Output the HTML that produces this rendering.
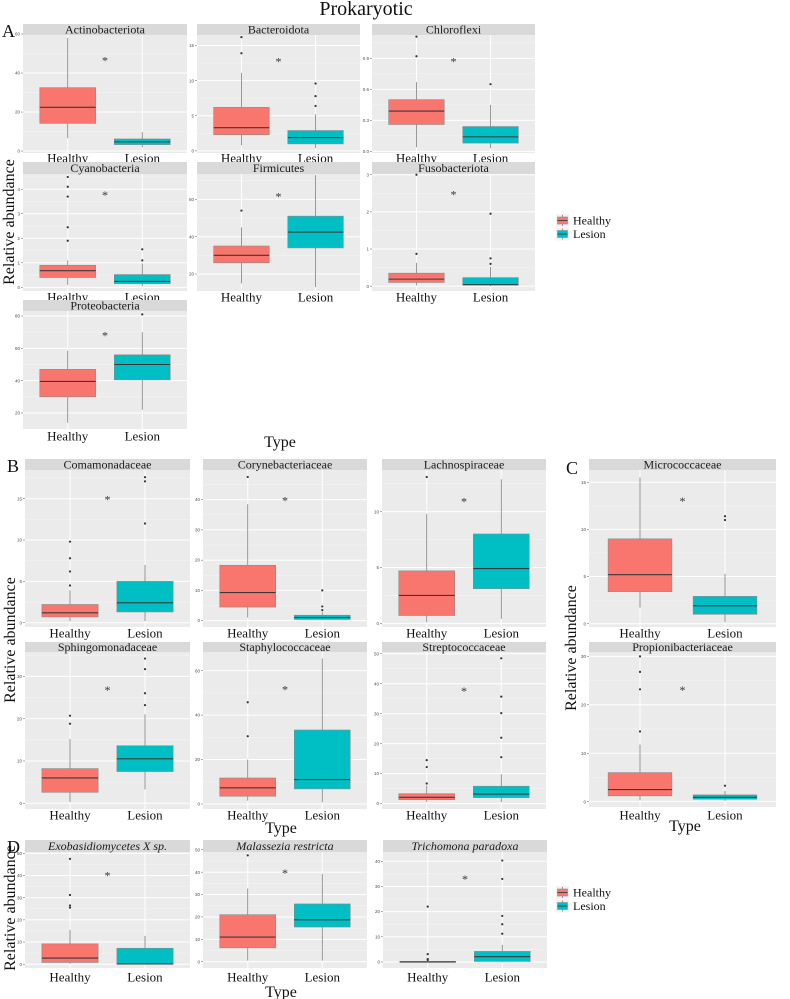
<!DOCTYPE html>
<html><head><meta charset="utf-8"><style>
html,body{margin:0;padding:0;background:#fff;}
svg{display:block;}
svg text{font-family:"Liberation Serif",serif;}
svg text.tick{font-family:"Liberation Sans",sans-serif;}
</style></head><body>
<svg id="fig" width="790" height="999" viewBox="0 0 790 999" xmlns="http://www.w3.org/2000/svg">
<text x="366" y="15" font-size="20" text-anchor="middle" fill="#111">Prokaryotic</text>
<text x="2" y="37" font-size="18" fill="#111">A</text>
<text x="7" y="472" font-size="18" fill="#111">B</text>
<text x="566" y="474" font-size="18" fill="#111">C</text>
<text x="7" y="853" font-size="18" fill="#111">D</text>
<text transform="translate(14,222) rotate(-90)" font-size="16" text-anchor="middle" fill="#111">Relative abundance</text>
<text transform="translate(15,640) rotate(-90)" font-size="16" text-anchor="middle" fill="#111">Relative abundance</text>
<text transform="translate(576,648) rotate(-90)" font-size="16" text-anchor="middle" fill="#111">Relative abundance</text>
<text transform="translate(15,908) rotate(-90)" font-size="16" text-anchor="middle" fill="#111">Relative abundance</text>
<text x="280" y="447" font-size="16" text-anchor="middle" fill="#111">Type</text>
<text x="281" y="833" font-size="16" text-anchor="middle" fill="#111">Type</text>
<text x="685" y="831" font-size="16" text-anchor="middle" fill="#111">Type</text>
<text x="281" y="997" font-size="16" text-anchor="middle" fill="#111">Type</text>
</svg>
<script>
// ---- data ----
const panelNames = ["Actinobacteriota","Bacteroidota","Chloroflexi","Cyanobacteria","Firmicutes","Fusobacteriota","Proteobacteria",
 "Comamonadaceae","Corynebacteriaceae","Lachnospiraceae","Micrococcaceae","Sphingomonadaceae","Staphylococcaceae","Streptococcaceae","Propionibacteriaceae",
 "Exobasidiomycetes X sp.","Malassezia restricta","Trichomona paradoxa"];
const categories = ["Healthy","Lesion"];
// [min, q1, median, q3, max]
const healthyStats = [[6.6,14.2,22.4,32.5,58],[0.8,2.3,3.3,6.2,11.1],[0.04,0.26,0.39,0.5,0.67],[0.1,0.4,0.68,0.9,1.1],[15,26,30,35,45],[0.02,0.1,0.19,0.35,0.63],[14,30,39.5,47,58.5],
 [0.2,0.7,1.2,2.2,3.9],[1,4.5,9.3,18.3,38.5],[0.1,0.7,2.5,4.7,9.8],[1.7,3.4,5.2,9.0,15.5],[0.3,2.6,6,8.2,15.2],[1.5,3.5,7.3,11.7,20],[0.6,1.3,2.1,3.3,6.0],[0.3,1.2,2.5,6.0,11.8],
 [0.2,0.8,2.8,9.2,15.5],[0.5,6.2,11,21,32.7],[0,0,0,0.2,0.3]];
const lesionStats = [[1.9,3.3,4.7,6.2,9.7],[0.4,1.0,1.9,2.9,5.2],[0.03,0.08,0.14,0.24,0.45],[0.05,0.15,0.24,0.52,0.97],[13,34,42.5,51,73],[0,0.03,0.04,0.23,0.52],[22,40.5,50,56,70],
 [0.2,1.3,2.4,5.0,7.0],[0.2,0.4,1.0,1.8,3],[0.4,3.1,4.9,8.0,12.9],[0.2,1.0,1.9,2.9,5.3],[3.3,7.5,10.5,13.6,21],[0.8,6.8,11,33.3,65.5],[0.5,2.0,3.2,5.8,9.8],[0.2,0.5,0.9,1.4,2.2],
 [0,0,0.1,7.2,12.8],[0.5,15.5,18.7,25.8,39.2],[0,0.2,2.1,4.2,6.8]];
const healthyOutliers = [[],[13.9,16.2],[0.92,1.11],[1.9,2.45,3.7,4.1,4.5],[54],[0.87,3.0],[],
 [4.5,6.2,7.8,9.8],[47.5],[13.1],[],[18.8,20.7],[30.5,45.8],[6.7,12.2,14.5],[14.5,23.2,26.8,30],
 [25.5,26.5,31.2,47.5],[47.5],[0.8,1.2,3.1,22]];
const lesionOutliers = [[],[6.4,7.8,9.6],[0.65],[1.1,1.55],[],[0.6,0.75,1.95],[81],
 [12,17.1,17.6],[3.5,4.7,10],[],[11.0,11.4],[23.2,26,31.7,34.2],[],[15.5,22,30.2,35.7,48.5],[3.3],
 [],[],[11.2,15,18.3,33,40.3]];
const starValues = [47,12.9,0.88,3.8,62,2.5,68.7,15,40,11,13.1,27,52,38,23.3,40.5,40,33.4];
const yDomains = [[-1,59.5],[-0.3,16.5],[-0.016,1.126],[-0.15,4.62],[10.9,73.6],[-0.13,3.02],[10.1,83.1],
 [-0.52,18.47],[-2.1,49.8],[-0.33,13.73],[-0.35,16.3],[-1.35,35.75],[-2.25,68.4],[-1.8,50.6],[-1.1,30.9],
 [-1.7,50.6],[-2.8,49],[-2.4,43.7]];
const yTicks = [[0,20,40,60],[0,5,10,15],[0,0.3,0.6,0.9],[0,1,2,3,4],[20,40,60],[0,1,2,3],[20,40,60,80],
 [0,5,10,15],[0,10,20,30,40],[0,5,10],[0,5,10,15],[0,10,20,30],[0,20,40,60],[0,10,20,30,40,50],[0,10,20,30],
 [0,10,20,30,40,50],[0,10,20,30,40,50],[0,10,20,30,40]];
const tickLabels = yTicks.map((t,i)=>t.map(v=> i===2 ? v.toFixed(1) : String(v)));

// ---- layout (pixel geometry, not data) ----
const layout = [
 [23,187,24,35,153,158],[197,360,24,35,153,158],[372,535,24,35,153,158],
 [23,187,162,174,291,297],[197,360,162,174,291,297],[372,535,162,174,291,297],
 [23,187,300,311,429,436],
 [25,190,459,470,627,633],[203,367,459,470,627,633],[382,546,459,470,627,633],[589,776,459,470,627,633],
 [25,190,642,652,809,815],[203,367,642,652,809,815],[382,546,642,652,809,815],[589,776,642,652,807,815],
 [25,190,840,852,968,977],[203,367,840,852,968,977],[383,547,840,852,968,977]];
const fills = ["#F8766D","#00BFC4"];
const NS = "http://www.w3.org/2000/svg";
const svg = document.getElementById("fig");
function mk(tag, attrs, parent){
  const e = document.createElementNS(NS, tag);
  for (const k in attrs) e.setAttribute(k, attrs[k]);
  (parent||svg).appendChild(e);
  return e;
}
function slug(s){return s.toLowerCase().replace(/[^a-z0-9]+/g,'-').replace(/-$/,'');}

panelNames.forEach((name, i) => {
  const [x0,x1,sTop,pTop,pBot,lblY] = layout[i];
  const [d0,d1] = yDomains[i];
  const yS = v => pBot - (v-d0)/(d1-d0)*(pBot-pTop);
  const xS = c => x0 + (c-0.4)/2.2*(x1-x0);
  const g = mk("g", {});
  
  
  const bg = mk("rect", {x:x0, y:pTop, width:x1-x0, height:pBot-pTop, fill:"#EBEBEB"}, g);
  
  
  const tk = yTicks[i];
  const step = tk.length>1 ? tk[1]-tk[0] : 1;
  for (let v = tk[0]-step/2; v <= d1; v += step) {
    if (v < d0) continue;
    const yy = yS(v);
    mk("line", {x1:x0, x2:x1, y1:yy, y2:yy, stroke:"#F5F5F5", "stroke-width":0.5}, g);
  }
  tk.forEach((v, j) => {
    const yy = yS(v);
    const gl = mk("line", {x1:x0, x2:x1, y1:yy, y2:yy, stroke:"#FFFFFF", "stroke-width":1}, g);
    
    
    mk("line", {x1:x0-2, x2:x0, y1:yy, y2:yy, stroke:"#555", "stroke-width":0.5}, g);
    const tl = mk("text", {x:x0-3, y:yy+1.6, "font-size":4.5, "text-anchor":"end", fill:"#4D4D4D", "class":"tick"}, g);
    tl.textContent = tickLabels[i][j];
    
    
  });
  [1,2].forEach(c => {
    const xx = xS(c);
    mk("line", {x1:xx, x2:xx, y1:pTop, y2:pBot, stroke:"#FFFFFF", "stroke-width":1}, g);
  });
  const st = mk("rect", {x:x0, y:sTop, width:x1-x0, height:pTop-sTop, fill:"#D9D9D9"}, g);
  
  
  const stt = mk("text", {x:(x0+x1)/2, y:sTop+(pTop-sTop)/2+4, "font-size":12, "text-anchor":"middle", fill:"#1A1A1A"}, g);
  if (i >= 15) stt.setAttribute("font-style","italic");
  stt.textContent = name;
  
  
  const hw = 0.375/2.2*(x1-x0);
  [healthyStats[i], lesionStats[i]].forEach((s, k) => {
    const cx = xS(k+1);
    const bx = mk("g", {}, g);
    
    
    mk("line", {x1:cx, x2:cx, y1:yS(s[4]), y2:yS(s[3]), stroke:"#7F7F7F", "stroke-width":0.8}, bx);
    mk("line", {x1:cx, x2:cx, y1:yS(s[1]), y2:yS(s[0]), stroke:"#7F7F7F", "stroke-width":0.8}, bx);
    mk("rect", {x:cx-hw, y:yS(s[3]), width:2*hw, height:Math.max(0.8, yS(s[1])-yS(s[3])), fill:fills[k], stroke:"#8a8a8a", "stroke-width":0.6}, bx);
    mk("line", {x1:cx-hw, x2:cx+hw, y1:yS(s[2]), y2:yS(s[2]), stroke:"#3a3a3a", "stroke-width":1.1}, bx);
    const outs = k===0 ? healthyOutliers[i] : lesionOutliers[i];
    outs.forEach(o => {
      const p = mk("circle", {cx:cx, cy:yS(o), r:1.1, fill:"#333"}, bx);
      
      
    });
    const xl = mk("text", {x:cx, y:lblY+4.5, "font-size":13, "text-anchor":"middle", fill:"#111"}, g);
    xl.textContent = categories[k];
    
    
  });
  const star = mk("text", {x:xS(1.5), y:yS(starValues[i])+5, "font-size":12, "text-anchor":"middle", fill:"#333"}, g);
  star.textContent = "*";
  
  
});

[[557,215],[557,887]].forEach((pos, li) => {
  const lg = mk("g", {});
  
  
  categories.forEach((c, k) => {
    const y0 = pos[1] + k*13.5;
    const e = mk("g", {}, lg);
    
    
    mk("rect", {x:pos[0]-1, y:y0-1, width:13, height:13, fill:"#F2F2F2"}, e);
    mk("line", {x1:pos[0]+5.5, x2:pos[0]+5.5, y1:y0, y2:y0+11, stroke:"#7F7F7F", "stroke-width":0.8}, e);
    mk("rect", {x:pos[0]+0.5, y:y0+2, width:10, height:7, fill:fills[k], stroke:"#8a8a8a", "stroke-width":0.6}, e);
    mk("line", {x1:pos[0]+0.5, x2:pos[0]+10.5, y1:y0+5.5, y2:y0+5.5, stroke:"#3a3a3a", "stroke-width":0.9}, e);
    const t = mk("text", {x:pos[0]+16, y:y0+9.5, "font-size":12, fill:"#111"}, e);
    t.textContent = c;
  });
});
</script>
</body></html>
